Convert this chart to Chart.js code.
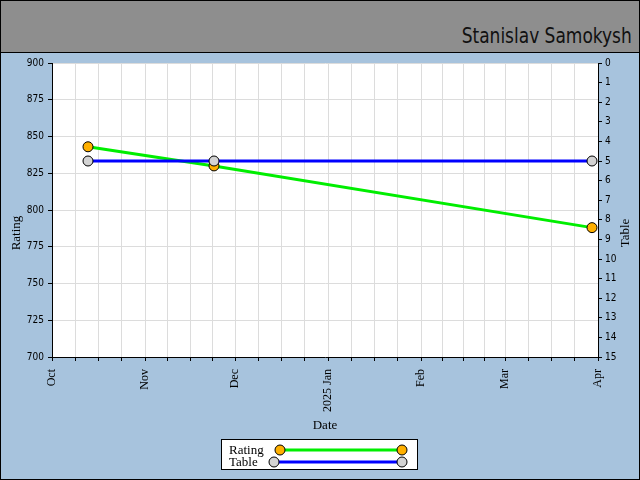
<!DOCTYPE html>
<html>
<head>
<meta charset="utf-8">
<script src="https://cdn.jsdelivr.net/npm/chart.js@4.4.1/dist/chart.umd.min.js"></script>
<style>
  html, body { margin: 0; padding: 0; background: #a7c3dd; }
  #frame { position: relative; width: 638px; height: 478px; border: 1px solid #000; background: #a7c3dd; }
  #head  { position: relative; height: 51px; background: #8e8e8e; border-bottom: 1px solid #000; }
  #name  { position: absolute; right: 7px; top: 22px; font-family: 'DejaVu Sans Condensed', 'DejaVu Sans', sans-serif;
           font-size: 22px; font-weight: 200; font-stretch: condensed; color: #111;
           transform: scaleX(0.86); transform-origin: right center; white-space: nowrap; }
  #plot  { position: relative; width: 638px; height: 426px; }
</style>
</head>
<body>
<div id="frame">
  <div id="head"><span id="name">Stanislav Samokysh</span></div>
  <div id="plot"><canvas id="chart"></canvas></div>
</div>
<script>
/* ---- data ---- */
const MONTH_STARTS = ['2024-10-01', '2024-11-01', '2024-12-01', '2025-01-01', '2025-02-01', '2025-03-01', '2025-04-01'];
const MONTH_LABELS = ['Oct', 'Nov', 'Dec', '2025 Jan', 'Feb', 'Mar', 'Apr'];
const GAME_DATES   = ['2024-10-13', '2024-11-24', '2025-03-30'];
const RATING       = [843, 830, 788];
const TABLE_PLACE  = [5, 5, 5];

const SERIF = "'Liberation Serif', 'DejaVu Serif', serif";
const NARROW = "'DejaVu Sans Condensed', 'Liberation Sans Narrow', sans-serif";

const monthMs = MONTH_STARTS.map((d) => Date.parse(d));

// major tick at each month start, minor ticks splitting each month in four
const xTicks = [];
for (let i = 0; i < monthMs.length - 1; i++) {
  const a = monthMs[i], b = monthMs[i + 1];
  for (let k = 0; k < 4; k++) xTicks.push(a + (b - a) * k / 4);
}
xTicks.push(monthMs[monthMs.length - 1]);

const points = (ys) => GAME_DATES.map((d, i) => ({ x: Date.parse(d), y: ys[i] }));

/* ---- small plugins ---- */
const plotBg = {
  id: 'plotBg',
  beforeDraw(chart) {
    const { ctx, chartArea: a } = chart;
    ctx.save();
    ctx.fillStyle = '#fff';
    ctx.fillRect(a.left, a.top, a.right - a.left, a.bottom - a.top);
    ctx.restore();
  },
};

// both y titles read bottom-to-top and sit a bit below the plot centre
const sideTitles = {
  id: 'sideTitles',
  afterDraw(chart) {
    const ctx = chart.ctx;
    ctx.save();
    ctx.font = '13px ' + SERIF;
    ctx.fillStyle = '#000';
    ctx.textAlign = 'center';
    ctx.textBaseline = 'middle';
    [['Rating', 16], ['Table', 625]].forEach(([t, x]) => {
      ctx.save();
      ctx.translate(x, 180);
      ctx.rotate(-Math.PI / 2);
      ctx.fillText(t, 0, 0);
      ctx.restore();
    });
    ctx.restore();
  },
};

function marker(ctx, x, y, fill) {
  ctx.beginPath();
  ctx.arc(x, y, 5, 0, Math.PI * 2);
  ctx.fillStyle = fill;
  ctx.fill();
  ctx.lineWidth = 1;
  ctx.strokeStyle = '#000';
  ctx.stroke();
}

const boxLegend = {
  id: 'boxLegend',
  afterDraw(chart) {
    const ctx = chart.ctx;
    const [rating, table] = chart.data.datasets;
    ctx.save();
    ctx.fillStyle = '#fff';
    ctx.fillRect(220, 386, 197, 31);
    ctx.strokeStyle = '#000';
    ctx.lineWidth = 1;
    ctx.strokeRect(220.5, 386.5, 196, 30);

    const rows = [
      { ds: rating, y: 397, x1: 279 },
      { ds: table,  y: 409, x1: 273 },
    ];
    rows.forEach(({ ds, y, x1 }) => {
      ctx.font = '13px ' + SERIF;
      ctx.fillStyle = '#000';
      ctx.textAlign = 'left';
      ctx.textBaseline = 'middle';
      ctx.fillText(ds.label, 228, y + 1);
      ctx.beginPath();
      ctx.moveTo(x1, y);
      ctx.lineTo(401, y);
      ctx.strokeStyle = ds.borderColor;
      ctx.lineWidth = 3;
      ctx.stroke();
      marker(ctx, x1, y, ds.pointBackgroundColor);
      marker(ctx, 401, y, ds.pointBackgroundColor);
    });
    ctx.restore();
  },
};

/* ---- chart ---- */
new Chart(document.getElementById('chart'), {
  type: 'line',
  data: {
    datasets: [
      {
        label: 'Rating',
        data: points(RATING),
        yAxisID: 'y',
        borderColor: '#00ee00',
        borderWidth: 3,
        pointRadius: 5,
        pointBackgroundColor: '#ffb000',
        pointBorderColor: '#000',
        pointBorderWidth: 1,
        tension: 0,
        order: 1,
      },
      {
        label: 'Table',
        data: points(TABLE_PLACE),
        yAxisID: 'y2',
        borderColor: '#0000ff',
        borderWidth: 3,
        pointRadius: 5,
        pointBackgroundColor: '#d3d3d3',
        pointBorderColor: '#000',
        pointBorderWidth: 1,
        tension: 0,
        order: 0,
      },
    ],
  },
  options: {
    responsive: true,
    maintainAspectRatio: false,
    animation: false,
    layout: { padding: { top: 10, bottom: 44, left: 0, right: 0 } },
    plugins: {
      legend: { display: false },
      tooltip: { enabled: false },
    },
    scales: {
      x: {
        type: 'linear',
        min: monthMs[0],
        max: monthMs[monthMs.length - 1],
        afterBuildTicks: (s) => { s.ticks = xTicks.map((v) => ({ value: v })); },
        afterFit: (s) => { s.height = 78; },
        grid: { color: '#dcdcdc', tickColor: '#000', tickLength: 4 },
        border: { color: '#000', width: 1 },
        ticks: {
          autoSkip: false,
          minRotation: 90,
          maxRotation: 90,
          padding: 8,
          color: '#000',
          font: { family: SERIF, size: 12 },
          callback: (v) => {
            const i = monthMs.indexOf(v);
            return i >= 0 ? MONTH_LABELS[i] : '';
          },
        },
        title: {
          display: true,
          text: 'Date',
          color: '#000',
          font: { family: SERIF, size: 13 },
          padding: { top: 0, bottom: 2 },
        },
      },
      y: {
        position: 'left',
        min: 700,
        max: 900,
        afterFit: (s) => { s.width = 51; },
        grid: { color: '#dcdcdc', tickColor: '#000', tickLength: 4 },
        border: { color: '#000', width: 1 },
        ticks: { stepSize: 25, padding: 4, color: '#000', font: { family: NARROW, size: 10 } },
      },
      y2: {
        position: 'right',
        min: 0,
        max: 15,
        reverse: true,
        afterFit: (s) => { s.width = 41; },
        grid: { drawOnChartArea: false, tickColor: '#000', tickLength: 4 },
        border: { color: '#000', width: 1 },
        ticks: { stepSize: 1, padding: 3, color: '#000', font: { family: NARROW, size: 10 } },
      },
    },
  },
  plugins: [plotBg, sideTitles, boxLegend],
});
</script>
</body>
</html>
